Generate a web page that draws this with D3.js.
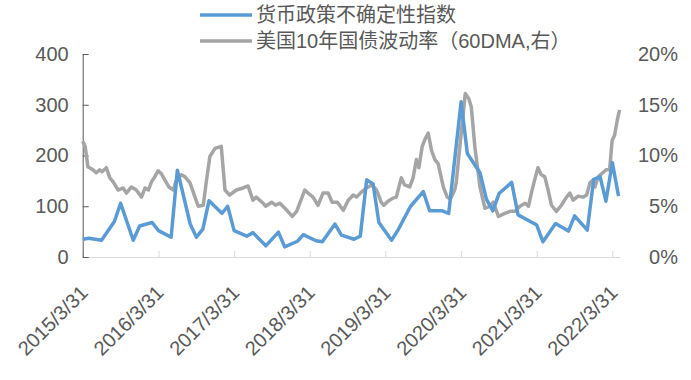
<!DOCTYPE html>
<html>
<head>
<meta charset="utf-8">
<script src="https://cdn.jsdelivr.net/npm/d3@7"></script>
<style>
  body { margin: 0; background: #fff; }
  svg text { font-family: "Liberation Sans", Arial, "Noto Sans CJK SC", sans-serif; fill: #595959; }
</style>
</head>
<body>
<svg id="chart" width="691" height="380"></svg>
<script>
// monetary policy uncertainty index, monthly (left axis)
const epuMonths = ["2015-03","2015-04","2015-06","2015-08","2015-09","2015-11","2015-12","2016-02","2016-03","2016-05",
  "2016-06","2016-08","2016-09","2016-10","2016-11","2017-01","2017-02","2017-03","2017-05","2017-06",
  "2017-08","2017-10","2017-11","2018-01","2018-02","2018-04","2018-05","2018-07","2018-08","2018-10",
  "2018-11","2018-12","2019-01","2019-02","2019-04","2019-05","2019-07","2019-09","2019-10","2019-12",
  "2020-01","2020-03","2020-04","2020-06","2020-07","2020-08","2020-09","2020-11","2020-12","2021-03",
  "2021-04","2021-06","2021-08","2021-09","2021-11","2021-12","2022-01","2022-02","2022-03","2022-04"];
const epuValues = [35,37,33,70,106,33,61,68,52,39,
  171,65,39,55,111,86,100,52,41,48,
  22,49,20,31,44,32,30,65,43,35,
  41,152,144,68,33,53,100,129,91,91,
  86,306,204,166,114,91,125,147,83,63,
  30,66,51,81,53,153,158,110,186,120];

// US 10y treasury volatility, 60DMA, % (right axis)
const volDates = ["2015-03-31","2015-04-12","2015-04-25","2015-05-19","2015-06-04","2015-06-21","2015-07-02","2015-07-23","2015-08-09","2015-08-25",
  "2015-09-18","2015-10-12","2015-10-28","2015-11-21","2015-12-15","2016-01-09","2016-01-26","2016-02-11","2016-02-26","2016-03-13",
  "2016-03-29","2016-04-14","2016-04-30","2016-05-20","2016-06-10","2016-06-26","2016-07-20","2016-08-06","2016-08-30","2016-09-23",
  "2016-10-09","2016-11-02","2016-11-18","2016-12-04","2016-12-29","2017-01-28","2017-02-15","2017-03-09","2017-04-11","2017-05-13",
  "2017-06-06","2017-06-30","2017-07-16","2017-08-18","2017-08-30","2017-09-28","2017-10-17","2017-11-07","2017-12-01","2018-01-06",
  "2018-01-27","2018-03-07","2018-03-23","2018-04-16","2018-05-10","2018-06-03","2018-06-28","2018-07-17","2018-08-12","2018-09-09",
  "2018-10-03","2018-10-27","2018-11-12","2018-12-06","2018-12-30","2019-01-24","2019-02-17","2019-03-11","2019-03-24","2019-04-13",
  "2019-05-07","2019-05-23","2019-06-16","2019-07-02","2019-07-27","2019-08-12","2019-08-28","2019-09-09","2019-09-25","2019-10-11",
  "2019-10-24","2019-11-09","2019-11-25","2019-12-11","2020-01-05","2020-01-24","2020-02-08","2020-02-29","2020-03-07","2020-04-20",
  "2020-05-07","2020-05-19","2020-06-05","2020-06-30","2020-07-24","2020-08-17","2020-09-02","2020-09-27","2020-10-28","2020-11-22",
  "2020-12-16","2021-01-09","2021-02-03","2021-02-19","2021-03-05","2021-03-21","2021-04-06","2021-04-22","2021-05-09","2021-05-25",
  "2021-06-10","2021-07-04","2021-07-28","2021-08-22","2021-09-07","2021-09-23","2021-10-17","2021-11-10","2021-11-27","2021-12-13",
  "2021-12-29","2022-01-06","2022-01-22","2022-02-07","2022-03-01","2022-03-18","2022-03-30","2022-04-11","2022-04-24","2022-05-05"];
const volValues = [11.4,10.9,8.9,8.6,8.3,8.6,8.4,8.8,7.8,7.4,
  6.6,6.8,6.3,6.9,6.6,5.9,6.8,6.6,7.4,7.9,
  8.5,8.2,7.6,6.9,6.6,7.6,8.1,7.9,7.3,5.9,
  5.0,5.1,7.6,9.9,10.7,10.9,6.6,6.1,6.6,6.8,
  7.0,5.6,5.9,5.3,5.0,5.4,5.1,5.3,4.8,4.0,
  4.5,6.6,6.3,5.9,5.1,6.3,6.3,5.4,5.4,4.6,
  5.6,6.1,5.9,6.4,6.8,7.1,6.6,5.4,5.1,5.5,
  5.8,5.9,7.8,7.1,6.9,7.8,9.6,8.8,10.9,11.7,
  12.2,10.5,9.6,9.2,6.9,5.9,5.7,6.6,7.3,16.1,
  15.6,14.8,10.9,6.9,4.8,5.0,5.4,4.0,4.3,4.5,
  4.5,5.0,5.3,5.0,6.3,7.6,8.8,8.1,7.9,6.6,
  5.1,4.5,5.1,5.9,6.3,5.6,6.0,5.9,6.1,7.3,
  7.6,6.9,7.9,8.2,8.6,8.6,11.5,12.0,13.5,14.5];

const tickDates = ["2015/3/31","2016/3/31","2017/3/31","2018/3/31","2019/3/31","2020/3/31","2021/3/31","2022/3/31"];
const leftTicks = [0, 100, 200, 300, 400];
const rightTicks = [0, 5, 10, 15, 20];
const seriesNames = ["货币政策不确定性指数", "美国10年国债波动率（60DMA,右）"];

const parseMonth = s => { const [y, m] = s.split("-").map(Number); return new Date(y, m, 0); };
const parseDay = d3.timeParse("%Y-%m-%d");
const parseTick = d3.timeParse("%Y/%m/%d");

const epu = epuMonths.map((m, i) => ({ date: parseMonth(m), value: epuValues[i] }));
const vol = volDates.map((d, i) => ({ date: parseDay(d), value: volValues[i] }));

const svg = d3.select("#chart");
const plot = { left: 82.7, right: 620, top: 54, bottom: 257 };

const x = d3.scaleTime()
    .domain([parseTick("2015/3/31"), parseDay("2022-05-07")])
    .range([plot.left, plot.right]);
const yL = d3.scaleLinear().domain([0, 400]).range([plot.bottom, plot.top]);
const yR = d3.scaleLinear().domain([0, 20]).range([plot.bottom, plot.top]);

// bottom axis
const xAxis = svg.append("g")
    .attr("transform", `translate(0,${plot.bottom})`)
    .call(d3.axisBottom(x)
        .tickValues(tickDates.map(parseTick))
        .tickSizeInner(-6)
        .tickSizeOuter(0)
        .tickFormat(d3.timeFormat("%Y/%-m/%-d")));
xAxis.select(".domain").attr("stroke", "#d9d9d9");
xAxis.selectAll(".tick line").attr("stroke", "#d9d9d9");
xAxis.selectAll(".tick text")
    .attr("x", 0).attr("y", 0).attr("dy", "0.35em")
    .attr("text-anchor", "end")
    .attr("transform", "translate(1,32) rotate(-45)")
    .style("font-size", "20px");

// left axis
const leftAxis = svg.append("g")
    .attr("transform", `translate(${plot.left},0)`)
    .call(d3.axisLeft(yL).tickValues(leftTicks).tickSizeInner(-6).tickSizeOuter(0).tickPadding(14));
leftAxis.select(".domain").attr("stroke", "#595959");
leftAxis.selectAll(".tick line").attr("stroke", "#595959");
leftAxis.selectAll(".tick text").style("font-size", "20px");

// right axis (labels only)
const rightAxis = svg.append("g")
    .attr("transform", `translate(${plot.right},0)`)
    .call(d3.axisRight(yR).tickValues(rightTicks).tickSize(0).tickFormat(d => d + "%"));
rightAxis.select(".domain").remove();
rightAxis.selectAll(".tick text")
    .attr("x", 58)
    .attr("text-anchor", "end")
    .style("font-size", "20px");

// lines
const lineL = d3.line().x(d => x(d.date)).y(d => yL(d.value));
const lineR = d3.line().x(d => x(d.date)).y(d => yR(d.value));

svg.append("path")
    .datum(vol)
    .attr("fill", "none")
    .attr("stroke", "#a5a5a5")
    .attr("stroke-width", 3.5)
    .attr("stroke-linejoin", "round")
    .attr("d", lineR);

svg.append("path")
    .datum(epu)
    .attr("fill", "none")
    .attr("stroke", "#5b9bd5")
    .attr("stroke-width", 3.5)
    .attr("stroke-linejoin", "round")
    .attr("d", lineL);

// legend
const legendColors = ["#5b9bd5", "#a5a5a5"];
const legend = svg.append("g");
seriesNames.forEach((name, i) => {
    const ly = 15 + i * 26;
    legend.append("line")
        .attr("x1", 200).attr("x2", 252)
        .attr("y1", ly).attr("y2", ly)
        .attr("stroke", legendColors[i])
        .attr("stroke-width", 3.5);
    legend.append("text")
        .attr("x", 256).attr("y", ly)
        .attr("dy", "0.35em")
        .style("font-size", "20px")
        .text(name);
});
</script>
</body>
</html>
